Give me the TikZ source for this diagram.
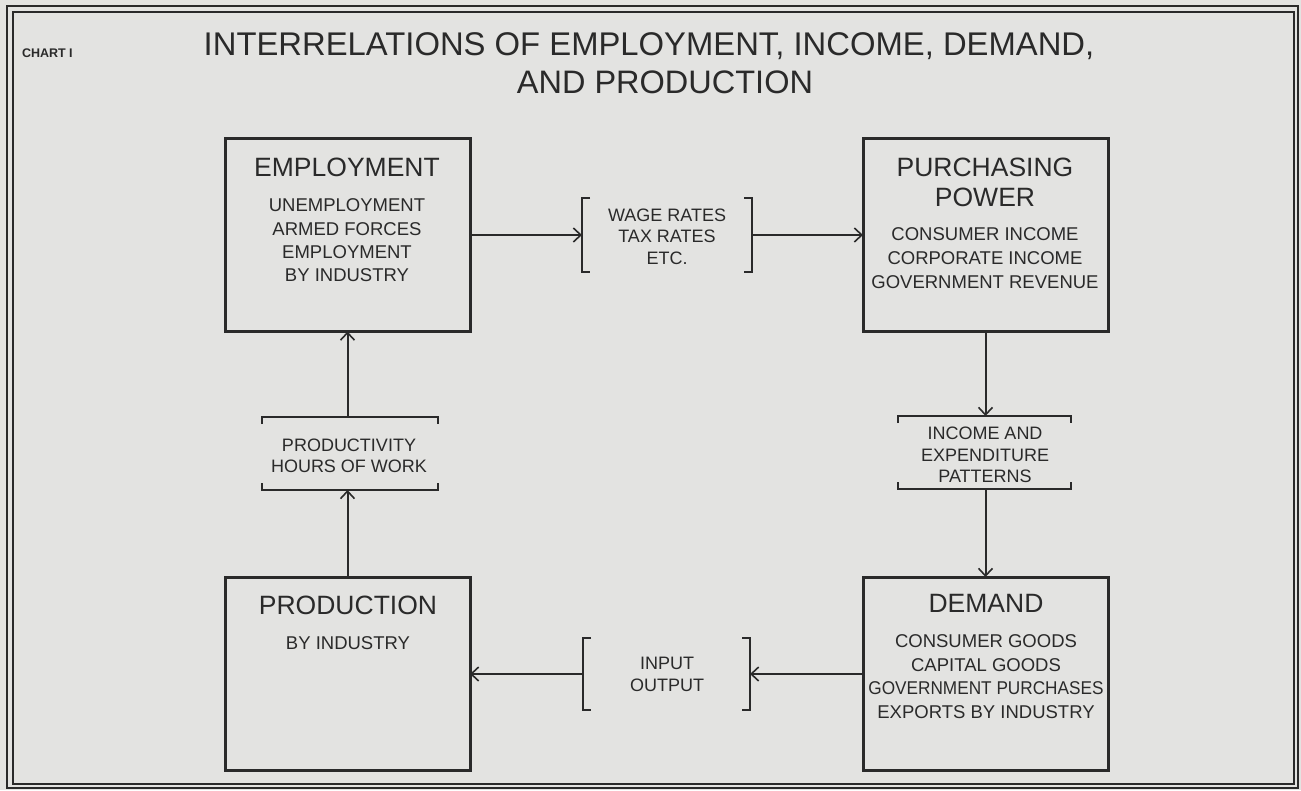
\documentclass[tikz,border=0pt]{standalone}
\usepackage{fontspec}
\setmainfont{Liberation Sans}
\usetikzlibrary{arrows.meta}
\definecolor{paper}{HTML}{E3E3E1}
\definecolor{ink}{HTML}{2A2A2A}
\begin{document}
\begin{tikzpicture}[x=1pt,y=-1pt,
  every node/.style={text=ink, inner sep=0pt, outer sep=0pt},
  box/.style={draw=ink, line width=3pt, rectangle, minimum width=245pt, minimum height=193pt},
  head/.style={font=\fontsize{26.5}{30}\selectfont, align=center},
  body/.style={font=\fontsize{18.5}{23.3}\selectfont, align=center},
  brtext/.style={font=\fontsize{18}{21.5}\selectfont, align=center},
  brk/.style={rectangle, draw=none},
  brline/.style={draw=ink, line width=2.6pt},
  arr/.style={draw=ink, line width=2pt, -{Straight Barb[length=7.5pt,width=14pt,line width=1.6pt]}}]

% paper and double frame
\fill[paper] (0,0) rectangle (1301,790);
\draw[ink, line width=2.2pt] (7,6) rectangle (1298,788);
\draw[ink, line width=1.2pt] (13,12) rectangle (1294,784);

% heading
\node[font=\bfseries\fontsize{12.5}{13}\selectfont, anchor=west] (chart) at (22,53) {CHART I};
\node[font=\fontsize{32.8}{36}\selectfont] (title1) at (649,46) {INTERRELATIONS OF EMPLOYMENT, INCOME, DEMAND,};
\node[font=\fontsize{32.5}{36}\selectfont] (title2) at (665,82) {AND PRODUCTION};

% the four main boxes
\node[box] (emp) at (347.5,235) {};
\node[box] (pp)  at (985.5,235) {};
\node[box] (prod) at (347.5,673.5) {};
\node[box] (dem) at (985.5,673.5) {};

\node[head] (empH) at (347,167) {EMPLOYMENT};
\node[body] (empB) at (347,240.5) {UNEMPLOYMENT\\ARMED FORCES\\EMPLOYMENT\\BY INDUSTRY};

\node[head] (ppH) at (985,182) {PURCHASING\\POWER};
\node[body, font=\fontsize{18.5}{24}\selectfont] (ppB) at (985,258) {CONSUMER INCOME\\CORPORATE INCOME\\GOVERNMENT REVENUE};

\node[head] (prodH) at (348,605) {PRODUCTION};
\node[body] (prodB) at (348,643) {BY INDUSTRY};

\node[head] (demH) at (986,603) {DEMAND};
\node[body, font=\fontsize{18.5}{23.7}\selectfont] (demB) at (986,676.5) {CONSUMER GOODS\\CAPITAL GOODS\\\scalebox{0.93}[1]{GOVERNMENT PURCHASES}\\EXPORTS BY INDUSTRY};

% bracketed factors
\node[brk, minimum width=170pt, minimum height=74pt] (wage) at (667,235) {};
\node[brtext] (wageT) at (667,236.5) {WAGE RATES\\TAX RATES\\ETC.};

\node[brk, minimum width=167pt, minimum height=72pt] (io) at (666.5,674) {};
\node[brtext] (ioT) at (667,674.5) {INPUT\\OUTPUT};

\node[brk, minimum width=176pt, minimum height=73pt] (prv) at (350,453.5) {};
\node[brtext] (prvT) at (349,456) {PRODUCTIVITY\\HOURS OF WORK};

\node[brk, minimum width=173pt, minimum height=73pt] (inc) at (984.5,452.5) {};
\node[brtext] (incT) at (985,455) {INCOME AND\\EXPENDITURE\\PATTERNS};

% vertical brackets
\draw[brline] ([xshift=8pt]wage.north west) -- (wage.north west) -- (wage.south west) -- ([xshift=8pt]wage.south west);
\draw[brline] ([xshift=-8pt]wage.north east) -- (wage.north east) -- (wage.south east) -- ([xshift=-8pt]wage.south east);
\draw[brline] ([xshift=8pt]io.north west) -- (io.north west) -- (io.south west) -- ([xshift=8pt]io.south west);
\draw[brline] ([xshift=-8pt]io.north east) -- (io.north east) -- (io.south east) -- ([xshift=-8pt]io.south east);

% horizontal brackets
\foreach \b in {prv,inc}{
  \draw[brline] ([yshift=-7pt]\b.north west) -- (\b.north west) -- (\b.north east) -- ([yshift=-7pt]\b.north east);
  \draw[brline] ([yshift=7pt]\b.south west) -- (\b.south west) -- (\b.south east) -- ([yshift=7pt]\b.south east);
}

% connectors
\draw[arr] (emp.east) -- (wage.west);
\draw[arr] (wage.east) -- (pp.west);
\draw[arr] (pp.south) -- (pp.south |- inc.north);
\draw[arr] (pp.south |- inc.south) -- (dem.north);
\draw[arr] (io.east -| dem.west) -- (io.east);
\draw[arr] (io.west) -- (io.west -| prod.east);
\draw[arr] (prod.north) -- (prod.north |- prv.south);
\draw[arr] (prod.north |- prv.north) -- (emp.south);

\end{tikzpicture}
\end{document}
